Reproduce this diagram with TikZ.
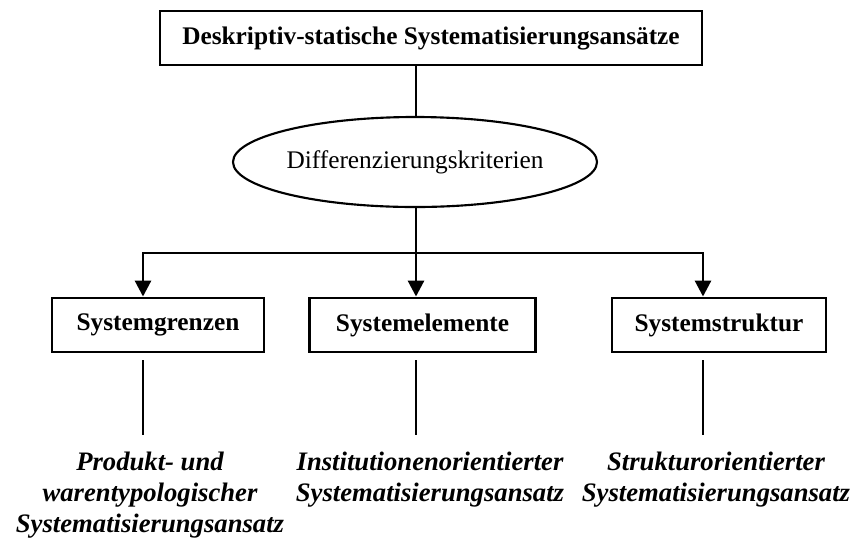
\documentclass[tikz,border=0pt]{standalone}
\usepackage{fontspec}
\setmainfont{Liberation Serif}
\usetikzlibrary{shapes.geometric,arrows.meta}

\begin{document}
\begin{tikzpicture}
    [x=0.75pt, y=-0.75pt,
    line width=2.2pt,
    box/.style={draw, rectangle, minimum height=40.5pt, inner sep=0pt, font=\fontsize{19}{22}\selectfont\bfseries},
    crit/.style={draw, ellipse, line width=1.6pt, minimum width=273pt, minimum height=67.5pt, inner sep=0pt, font=\fontsize{19}{22}\selectfont},
    ansatz/.style={align=center, inner sep=0pt, anchor=north, font=\fontsize{20}{23}\selectfont\bfseries\itshape},
    ->-/.style={-{Triangle[length=12pt, width=12pt]}}]
    \useasboundingbox (0,0) rectangle (853,537);
        %% top and criteria
    \node[box, minimum width=406.5pt] (D) at (431,38) {Deskriptiv-statische Systematisierungsansätze};
    \node[crit] (K) at (415,162) {Differenzierungskriterien};

        %% system boxes
    \node[box, minimum width=159pt] (S1) at (158,325) {Systemgrenzen};
    \node[box, minimum width=170pt] (S2) at (422.5,325) {Systemelemente};
    \node[box, minimum width=160.5pt] (S3) at (719,325) {Systemstruktur};
    \coordinate (N1) at (143,253);
    \coordinate (N2) at (416,253);
    \coordinate (N3) at (703,253);

        %% approaches
    \node[ansatz] (A1) at (150,451) {Produkt- und\\warentypologischer\\Systematisierungsansatz};
    \node[ansatz] (A2) at (430,451) {Institutionenorientierter\\Systematisierungsansatz};
    \node[ansatz] (A3) at (716,451) {Strukturorientierter\\Systematisierungsansatz};

    \draw (D.south -| N2) -- (N2 |- K.north);
    \draw (N2 |- K.south) -- (N2);
    \draw[line cap=rect] (N1) -- (N3);
    \draw[->-] (N1) -- (N1 |- S1.north);
    \draw[->-] (N2) -- (N2 |- S2.north);
    \draw[->-] (N3) -- (N3 |- S3.north);
    \draw[shorten <=5pt, shorten >=12pt] (N1 |- S1.south) -- (N1 |- A1.north);
    \draw[shorten <=5pt, shorten >=12pt] (N2 |- S2.south) -- (N2 |- A2.north);
    \draw[shorten <=5pt, shorten >=12pt] (N3 |- S3.south) -- (N3 |- A3.north);
\end{tikzpicture}
\end{document}
